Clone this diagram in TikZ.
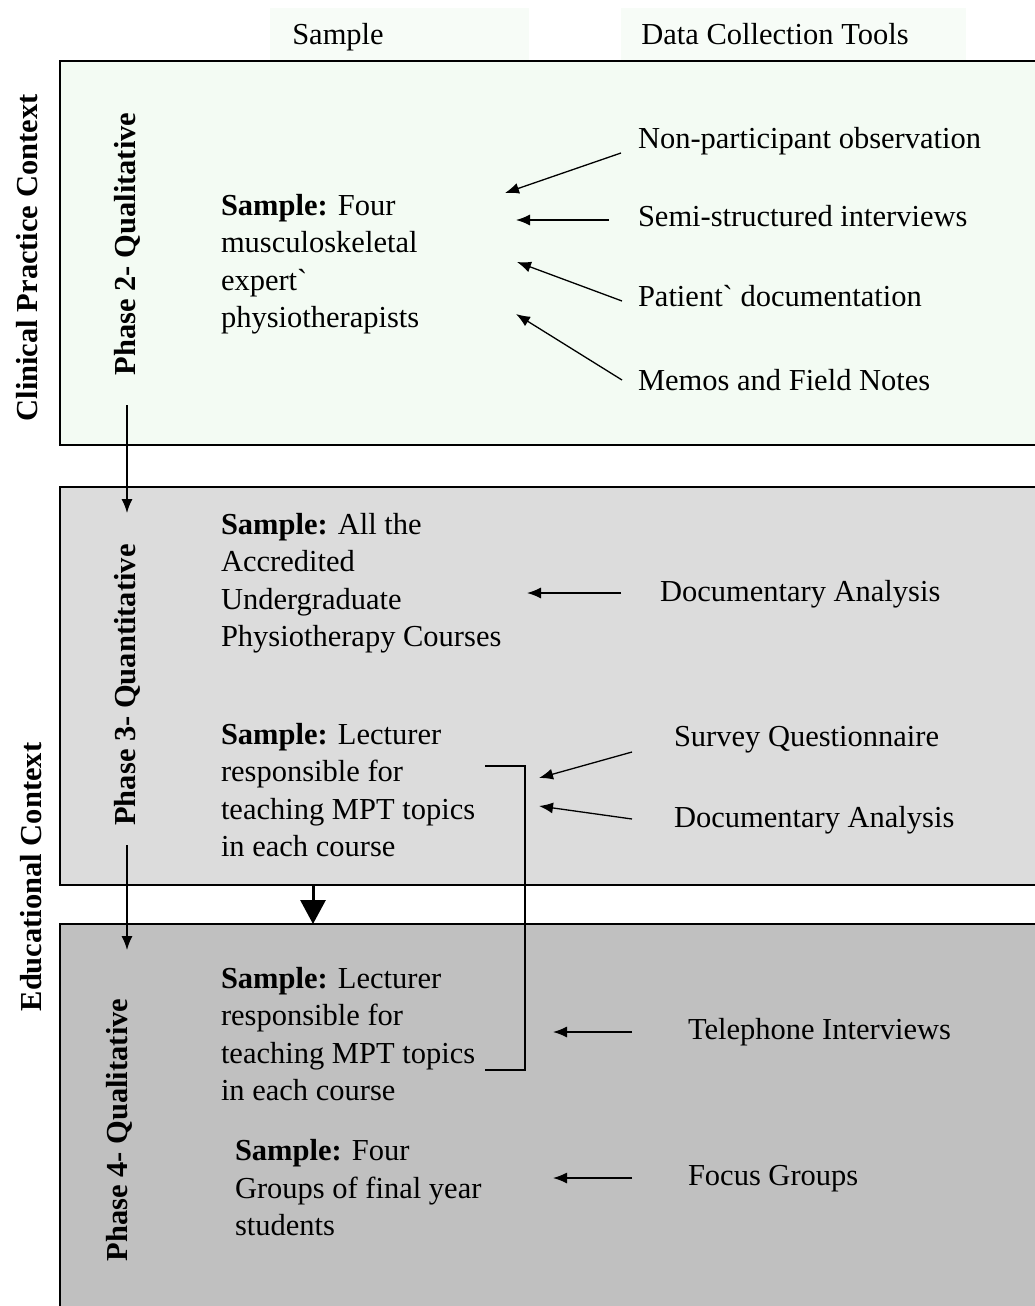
\documentclass[tikz,border=0pt]{standalone}
\usepackage{fontspec}
\setmainfont{Liberation Serif}[Ligatures=TeXOff]
\usetikzlibrary{arrows.meta}
\definecolor{mintbg}{HTML}{F3FBF3}
\definecolor{hdrbg}{HTML}{F7FCF7}
\definecolor{greyA}{HTML}{DCDCDC}
\definecolor{greyB}{HTML}{C0C0C0}
\newcommand{\gq}{\symbol{96}}
\begin{document}
\begin{tikzpicture}[x=1pt,y=-1pt,
  every node/.style={inner sep=0pt,outer sep=0pt,font=\fontsize{30.5}{37.5}\selectfont},
  panel/.style={draw=black,line width=1.8pt},
  txt/.style={anchor=west,align=left},
  vlab/.style={rotate=90,font=\fontsize{30.5}{34}\selectfont\bfseries},
  arr/.style={line width=1.3pt,-{Latex[length=14pt,width=11pt]}},
  bigarr/.style={line width=3pt,-{Triangle[length=24pt,width=25pt]}},
  brk/.style={line width=1.3pt}]
\useasboundingbox (0,0) rectangle (1035,1306);
\clip (0,0) rectangle (1035,1306);
\fill[white] (0,0) rectangle (1035,1306);
% header backgrounds
\fill[hdrbg] (270,8) rectangle (529,60);
\fill[hdrbg] (621,8) rectangle (966,60);
\node[anchor=base] (hsample) at (338,45) {Sample};
\node[anchor=base] (htools) at (775,45) {Data Collection Tools};
% panels
\draw[panel,fill=mintbg] (60,61) rectangle (1050,445);
\draw[panel,fill=greyA] (60,487) rectangle (1050,885);
\draw[panel,fill=greyB] (60,924) rectangle (1050,1330);
% side labels
\node[vlab] (ctxA) at (27,258) {Clinical Practice Context};
\node[vlab] (ctxB) at (31,877) {Educational Context};
\node[vlab] (ph2) at (127,244) {Phase 2- Qualitative};
\node[vlab] (ph3) at (127,685) {Phase 3- Quantitative};
\node[vlab] (ph4) at (119,1130) {Phase 4- Qualitative};
% phase connectors
\coordinate (p2s) at (127,405);
\coordinate (p2e) at (127,513);
\coordinate (p3s) at (127,845);
\coordinate (p3e) at (127,950);
\draw[arr] (p2s) -- (p2e);
\draw[arr] (p3s) -- (p3e);
\coordinate (bas) at (313,885);
\coordinate (bae) at (313,924);
\draw[bigarr] (bas) -- (bae);
% Phase 2 content
\node[txt] (s2) at (221,264) {\textbf{Sample:} Four\\musculoskeletal\\expert\gq\\physiotherapists};
\node[txt] (t21) at (638,141) {Non-participant observation};
\node[txt] (t22) at (638,216) {Semi-structured interviews};
\node[txt] (t23) at (638,296) {Patient\gq\ documentation};
\node[txt] (t24) at (638,380) {Memos and Field Notes};
\coordinate (a21s) at (621,153); \coordinate (a21e) at (505,193);
\coordinate (a22s) at (609,220); \coordinate (a22e) at (516,220);
\coordinate (a23s) at (622,301); \coordinate (a23e) at (517,262);
\coordinate (a24s) at (622,380); \coordinate (a24e) at (516,314);
\draw[arr] (a21s) -- (a21e);
\draw[arr] (a22s) -- (a22e);
\draw[arr] (a23s) -- (a23e);
\draw[arr] (a24s) -- (a24e);
% Phase 3 content
\node[txt] (s31) at (221,583) {\textbf{Sample:} All the\\Accredited\\Undergraduate\\Physiotherapy Courses};
\node[txt] (t31) at (660,594) {Documentary Analysis};
\coordinate (a31s) at (621,593); \coordinate (a31e) at (527,593);
\draw[arr] (a31s) -- (a31e);
\node[txt] (s32) at (221,790) {\textbf{Sample:} Lecturer\\responsible for\\teaching MPT topics\\in each course};
\node[txt] (t32) at (674,740) {Survey Questionnaire};
\node[txt] (t33) at (674,820) {Documentary Analysis};
\coordinate (a32s) at (632,752); \coordinate (a32e) at (539,778);
\coordinate (a33s) at (632,819); \coordinate (a33e) at (539,806);
\draw[arr] (a32s) -- (a32e);
\draw[arr] (a33s) -- (a33e);
% Phase 4 content
\node[txt] (s41) at (221,1034) {\textbf{Sample:} Lecturer\\responsible for\\teaching MPT topics\\in each course};
\node[txt] (t41) at (688,1032) {Telephone Interviews};
\coordinate (a41s) at (632,1032); \coordinate (a41e) at (553,1032);
\draw[arr] (a41s) -- (a41e);
\node[txt] (s42) at (235,1188) {\textbf{Sample:} Four\\Groups of final year\\students};
\node[txt] (t42) at (688,1179) {Focus Groups};
\coordinate (a42s) at (632,1178); \coordinate (a42e) at (553,1178);
\draw[arr] (a42s) -- (a42e);
% bracket linking the two lecturer samples
\coordinate (bk1) at (485,766);
\coordinate (bk2) at (525,766);
\coordinate (bk3) at (525,1070);
\coordinate (bk4) at (485,1070);
\draw[brk] (bk1) -- (bk2) -- (bk3) -- (bk4);
\end{tikzpicture}
\end{document}
